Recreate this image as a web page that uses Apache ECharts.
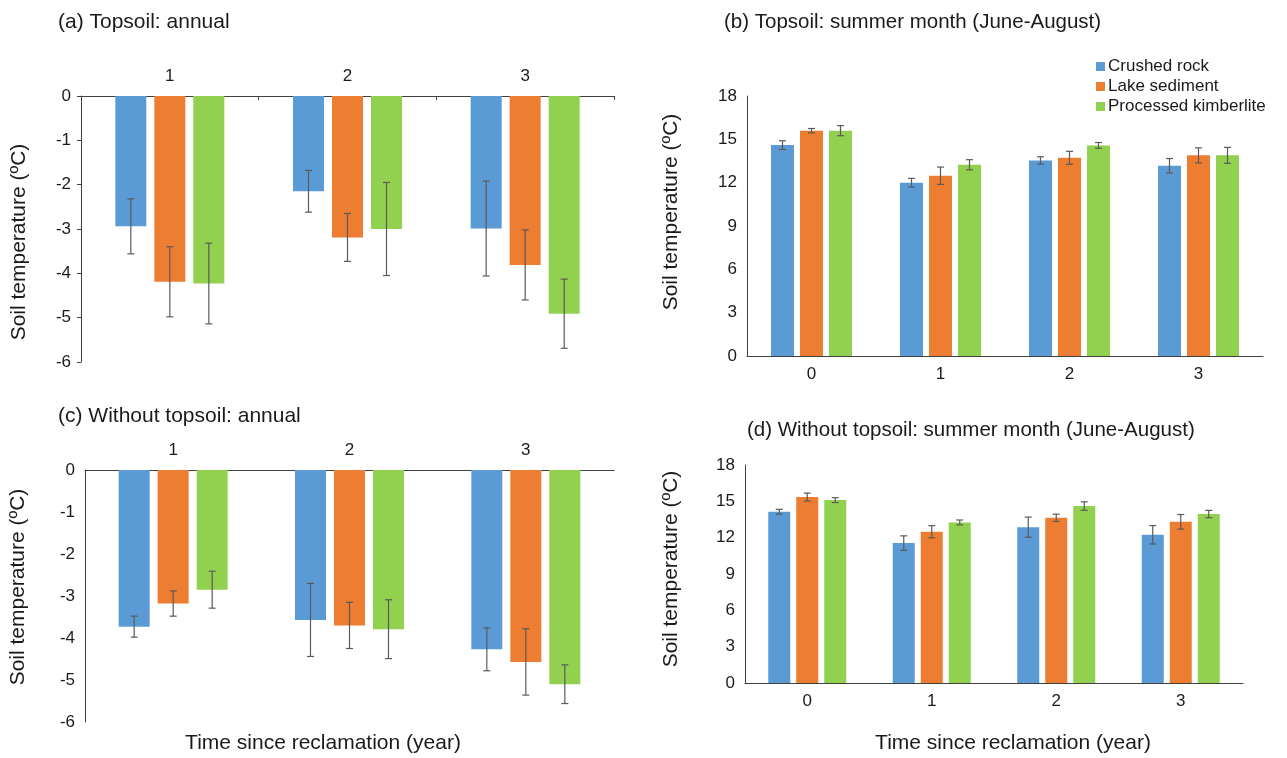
<!DOCTYPE html>
<html>
<head>
<meta charset="utf-8">
<script src="https://cdn.jsdelivr.net/npm/echarts@6/dist/echarts.min.js"></script>
<style>
html,body{margin:0;padding:0;background:#fff;}
#chart{width:1287px;height:758px;}
</style>
</head>
<body>
<div id="chart"></div>
<script>
// ---- data ----
const seriesNames = ['Crushed rock', 'Lake sediment', 'Processed kimberlite'];
const catsAnnual = ['1', '2', '3'];
const catsSummer = ['0', '1', '2', '3'];
const tempTicksAnnual = [-6, -5, -4, -3, -2, -1, 0];
const tempTicksSummer = [0, 3, 6, 9, 12, 15, 18];

// (a) Topsoil: annual
const aCrushed = [-2.94, -2.15, -2.99];
const aLake = [-4.19, -3.19, -3.81];
const aKimb = [-4.23, -3.00, -4.91];
const aCrushedErr = [0.62, 0.47, 1.07];
const aLakeErr = [0.79, 0.54, 0.79];
const aKimbErr = [0.91, 1.05, 0.78];

// (b) Topsoil: summer
const bCrushed = [14.60, 12.00, 13.54, 13.17];
const bLake = [15.60, 12.48, 13.72, 13.89];
const bKimb = [15.60, 13.24, 14.58, 13.89];
const bCrushedErr = [0.30, 0.30, 0.25, 0.50];
const bLakeErr = [0.15, 0.60, 0.45, 0.52];
const bKimbErr = [0.35, 0.35, 0.20, 0.55];

// (c) Without topsoil: annual
const cCrushed = [-3.73, -3.57, -4.27];
const cLake = [-3.18, -3.70, -4.57];
const cKimb = [-2.85, -3.79, -5.10];
const cCrushedErr = [0.25, 0.87, 0.51];
const cLakeErr = [0.30, 0.55, 0.79];
const cKimbErr = [0.44, 0.70, 0.46];

// (d) Without topsoil: summer
const dCrushed = [14.14, 11.55, 12.87, 12.24];
const dLake = [15.35, 12.49, 13.64, 13.31];
const dKimb = [15.10, 13.26, 14.61, 13.95];
const dCrushedErr = [0.20, 0.60, 0.83, 0.76];
const dLakeErr = [0.33, 0.50, 0.30, 0.60];
const dKimbErr = [0.20, 0.20, 0.35, 0.30];

const yName = 'Soil temperature (ºC)';
const xName = 'Time since reclamation (year)';

// ---- styles ----
const colors = ['#5B9BD5', '#ED7D31', '#92D050'];
const FONT = 'Liberation Sans, Arial, sans-serif';
const txt = '#1a1a1a';
const axisCol = '#404040';
const errCol = '#5a5a5a';

const chart = echarts.init(document.getElementById('chart'), null, {renderer: 'canvas'});

function barSeries(idx, name, data, barW, gapPct) {
  return {
    type: 'bar', name: name, xAxisIndex: idx, yAxisIndex: idx,
    data: data, barWidth: barW, barGap: gapPct,
    itemStyle: {color: colors[seriesNames.indexOf(name)]},
    emphasis: {disabled: true}, z: 2
  };
}
function errSeries(idx, name, vals, errs, offset) {
  return {
    type: 'custom', name: name, xAxisIndex: idx, yAxisIndex: idx, z: 5,
    data: vals.map((v, i) => [i, v, errs[i]]),
    encode: {x: 0, y: 1},
    silent: true,
    renderItem: function (params, api) {
      const x = api.value(0), v = api.value(1), e = api.value(2);
      const hi = api.coord([x, v + e]);
      const lo = api.coord([x, v - e]);
      const cx = hi[0] + offset;
      const cap = 3.5;
      const st = {stroke: errCol, lineWidth: 1.2};
      return {
        type: 'group', children: [
          {type: 'line', shape: {x1: cx, y1: hi[1], x2: cx, y2: lo[1]}, style: st},
          {type: 'line', shape: {x1: cx - cap, y1: hi[1], x2: cx + cap, y2: hi[1]}, style: st},
          {type: 'line', shape: {x1: cx - cap, y1: lo[1], x2: cx + cap, y2: lo[1]}, style: st}
        ]
      };
    }
  };
}

function panelSeries(idx, vals, errs, barW, gapPx) {
  const gapPct = (gapPx / barW * 100) + '%';
  const step = barW + gapPx;
  const out = [];
  for (let k = 0; k < 3; k++) out.push(barSeries(idx, seriesNames[k], vals[k], barW, gapPct));
  for (let k = 0; k < 3; k++) out.push(errSeries(idx, seriesNames[k], vals[k], errs[k], (k - 1) * step));
  return out;
}

const labelStyle = {color: txt, fontSize: 17, fontFamily: FONT};

function yAxisCfg(idx, ticks, showTick) {
  return {
    type: 'value', gridIndex: idx,
    min: ticks[0], max: ticks[ticks.length - 1], interval: ticks[1] - ticks[0],
    axisLine: {show: true, lineStyle: {color: axisCol, width: 1}},
    axisTick: {show: showTick, length: 4, lineStyle: {color: axisCol}},
    axisLabel: Object.assign({margin: 10}, labelStyle),
    splitLine: {show: false}
  };
}
function xAxisCfg(idx, cats, top, showTick) {
  return {
    type: 'category', gridIndex: idx, data: cats,
    position: top ? 'top' : 'bottom',
    axisLine: {show: true, onZero: false, lineStyle: {color: axisCol, width: 1.2}},
    axisTick: {show: showTick, inside: true, length: 4, lineStyle: {color: axisCol}},
    axisLabel: Object.assign({margin: top ? 11 : 10}, labelStyle)
  };
}

function txtEl(text, x, y, size, align, rot) {
  return {
    type: 'text', x: x, y: y, rotation: rot || 0,
    style: {text: text, fill: txt, font: size + 'px ' + FONT, textAlign: align || 'left', textVerticalAlign: 'middle'}
  };
}

const option = {
  backgroundColor: '#fff',
  animation: false,
  textStyle: {fontFamily: FONT},
  grid: [
    {left: 81, top: 96, width: 533, height: 266},
    {left: 747, top: 96, width: 516, height: 260},
    {left: 85, top: 470, width: 529, height: 252},
    {left: 745, top: 465, width: 498, height: 218}
  ],
  legend: {
    data: seriesNames, orient: 'vertical', left: 1091, top: 53,
    icon: 'rect', itemWidth: 9, itemHeight: 9, itemGap: 3,
    textStyle: {color: txt, fontSize: 17, fontFamily: FONT, padding: [0, 0, 0, -2]},
    selectedMode: false
  },
  xAxis: [
    xAxisCfg(0, catsAnnual, true, true),
    xAxisCfg(1, catsSummer, false, false),
    xAxisCfg(2, catsAnnual, true, false),
    xAxisCfg(3, catsSummer, false, false)
  ],
  yAxis: [
    yAxisCfg(0, tempTicksAnnual, true),
    yAxisCfg(1, tempTicksSummer, false),
    yAxisCfg(2, tempTicksAnnual, false),
    yAxisCfg(3, tempTicksSummer, false)
  ],
  series: [].concat(
    panelSeries(0, [aCrushed, aLake, aKimb], [aCrushedErr, aLakeErr, aKimbErr], 31, 8),
    panelSeries(1, [bCrushed, bLake, bKimb], [bCrushedErr, bLakeErr, bKimbErr], 23, 6),
    panelSeries(2, [cCrushed, cLake, cKimb], [cCrushedErr, cLakeErr, cKimbErr], 31, 8),
    panelSeries(3, [dCrushed, dLake, dKimb], [dCrushedErr, dLakeErr, dKimbErr], 22, 6)
  ),
  graphic: [
    txtEl('(a) Topsoil: annual', 58, 22, 21),
    txtEl('(b) Topsoil: summer month (June-August)', 724, 22, 20.5),
    txtEl('(c) Without topsoil: annual', 58, 416, 21),
    txtEl('(d) Without topsoil: summer month (June-August)', 747, 430, 20.5),
    txtEl(xName, 323, 743, 21, 'center'),
    txtEl(xName, 1013, 743, 21, 'center'),
    txtEl(yName, 19, 242, 21, 'center', Math.PI / 2),
    txtEl(yName, 671, 212, 21, 'center', Math.PI / 2),
    txtEl(yName, 18, 587, 21, 'center', Math.PI / 2),
    txtEl(yName, 671, 569, 21, 'center', Math.PI / 2)
  ]
};
chart.setOption(option);
</script>
</body>
</html>
